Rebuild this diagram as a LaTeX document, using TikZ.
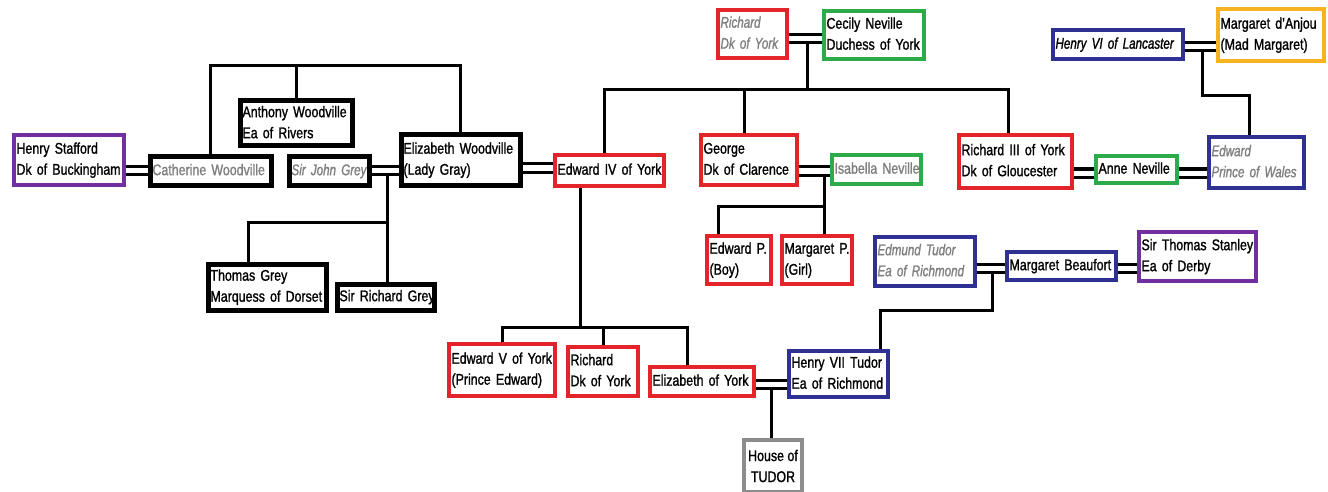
\documentclass[tikz,border=0pt]{standalone}
\usepackage{fontspec}
\setmainfont[FakeStretch=0.80,FakeBold=1.2,ItalicFeatures={FakeStretch=0.75}]{Liberation Sans}
\definecolor{cred}{HTML}{E3242B}
\definecolor{cgreen}{HTML}{2EAA4A}
\definecolor{cblue}{HTML}{2E3192}
\definecolor{cpurple}{HTML}{7030A0}
\definecolor{cyellow}{HTML}{F5B324}
\definecolor{cgrayb}{HTML}{8C8C8C}
\definecolor{tgray}{HTML}{7F7F7F}
\pgfdeclarelayer{bg}
\pgfsetlayers{bg,main}
\newcommand\famfont{\fontsize{15.5}{21}\selectfont}
\tikzset{
  famb/.style={draw, line width=4pt, fill=white, inner xsep=2.5pt, inner ysep=1pt,
    align=left, font=\famfont, text=black},
  blk/.style={line width=5pt},
  wire/.style={draw=black, line width=3pt, line cap=butt, line join=miter}
}
\newcommand\famnode[8]{%
  \pgfmathsetmacro\famW{#4-#2-4}%
  \pgfmathsetmacro\famH{#5-#3-4}%
  \pgfmathsetmacro\famT{\famW-5}%
  \node[famb, draw=#6, text width=\famT pt, minimum height=\famH pt, #7] (#1) at ({(#2+#4)/2},{(#3+#5)/2}) {\begin{tabular}{@{}l@{}}#8\end{tabular}};}
\newcommand\marry[4]{%
  \path (0,#3) coordinate (mA) (0,#4) coordinate (mB);
  \draw[wire] (#1.east|-mA) -- (#2.west|-mA);
  \draw[wire] (#1.east|-mB) -- (#2.west|-mB);}
\begin{document}
\begin{tikzpicture}[x=1pt,y=-1pt]
\useasboundingbox (0,0) rectangle (1328,492);
% people
\famnode{hs}{12}{133}{126}{187}{cpurple}{}{Henry Stafford\\Dk of Buckingham}
\famnode{cw}{148}{155}{273}{187}{black}{blk, text=tgray}{Catherine Woodville}
\famnode{aw}{238}{99}{354}{148}{black}{blk}{Anthony Woodville\\Ea of Rivers}
\famnode{jg}{287}{155}{371}{187}{black}{blk, text=tgray, font=\famfont\itshape}{Sir John Grey}
\famnode{ew}{399}{133}{522}{187}{black}{blk}{Elizabeth Woodville\\(Lady Gray)}
\famnode{e4}{553}{153}{666}{188}{cred}{}{Edward IV of York}
\famnode{rdy}{716}{8}{789}{60}{cred}{text=tgray, font=\famfont\itshape}{Richard\\Dk of York}
\famnode{cn}{822}{9}{926}{61}{cgreen}{}{Cecily Neville\\Duchess of York}
\famnode{gc}{699}{133}{799}{187}{cred}{}{George\\Dk of Clarence}
\famnode{isn}{830}{153}{923}{186}{cgreen}{text=tgray}{Isabella Neville}
\famnode{r3}{957}{133}{1074}{190}{cred}{}{Richard III of York\\Dk of Gloucester}
\famnode{an}{1094}{154}{1179}{185}{cgreen}{}{Anne Neville}
\famnode{ep}{1207}{135}{1306}{190}{cblue}{text=tgray, font=\famfont\itshape}{Edward\\Prince of Wales}
\famnode{h6}{1051}{28}{1185}{61}{cblue}{font=\famfont\itshape}{Henry VI of Lancaster}
\famnode{ma}{1216}{7}{1326}{63}{cyellow}{}{Margaret d'Anjou\\(Mad Margaret)}
\famnode{epb}{705}{234}{773}{286}{cred}{}{Edward P.\\(Boy)}
\famnode{mpg}{780}{234}{854}{286}{cred}{}{Margaret P.\\(Girl)}
\famnode{et}{873}{235}{977}{288}{cblue}{text=tgray, font=\famfont\itshape}{Edmund Tudor\\Ea of Richmond}
\famnode{mb}{1005}{250}{1118}{282}{cblue}{}{Margaret Beaufort}
\famnode{ts}{1137}{230}{1258}{283}{cpurple}{}{Sir Thomas Stanley\\Ea of Derby}
\famnode{tg}{206}{262}{328}{312}{black}{blk}{Thomas Grey\\Marquess of Dorset}
\famnode{srg}{335}{282}{436}{312}{black}{blk}{Sir Richard Grey}
\famnode{ev}{447}{342}{557}{398}{cred}{}{Edward V of York\\(Prince Edward)}
\famnode{rdk}{566}{345}{640}{398}{cred}{}{Richard\\Dk of York}
\famnode{ey}{648}{365}{756}{398}{cred}{}{Elizabeth of York}
\famnode{h7}{787}{349}{890}{399}{cblue}{}{Henry VII Tudor\\Ea of Richmond}
\node[famb, draw=cgrayb, align=center, minimum width=58pt, minimum height=52pt] (ht) at (773,466) {House of\\TUDOR};
% connectors
\begin{pgfonlayer}{bg}
\marry{hs}{cw}{167}{174}
\marry{jg}{ew}{167}{174}
\marry{ew}{e4}{164}{172}
\marry{rdy}{cn}{35}{43}
\marry{gc}{isn}{167}{175}
\marry{r3}{an}{169}{177}
\marry{an}{ep}{169}{177}
\marry{h6}{ma}{43}{51}
\marry{et}{mb}{264}{272}
\marry{mb}{ts}{264}{272}
\marry{ey}{h7}{380}{388}
% Woodville siblings
\coordinate (wbar) at (0,66);
\draw[wire] (cw.north) -- (cw.north|-wbar) -- (ew.north|-wbar) -- (ew.north);
\draw[wire] (aw.north) -- (aw.north|-wbar);
% Grey children
\coordinate (gj) at (387,174);
\coordinate (gbar) at (248,222);
\draw[wire] (gj) -- (gj|-srg.north);
\draw[wire] (gbar|-tg.north) -- (gbar) -- (gbar-|gj);
% York children
\coordinate (yj) at (807,43);
\coordinate (ybar) at (0,90);
\coordinate (xa) at (604,0);
\coordinate (xb) at (744,0);
\coordinate (xc) at (1008,0);
\draw[wire] (yj) -- (yj|-ybar);
\draw[wire] (xa|-e4.north) -- (xa|-ybar) -- (xc|-ybar) -- (xc|-r3.north);
\draw[wire] (xb|-gc.north) -- (xb|-ybar);
% Edward IV children
\coordinate (xd) at (580,0);
\coordinate (cbar) at (0,327);
\coordinate (xe) at (687,0);
\draw[wire] (xd|-e4.south) -- (xd|-cbar);
\draw[wire] (ev.north) -- (ev.north|-cbar) -- (xe|-cbar) -- (xe|-ey.north);
\draw[wire] (rdk.north) -- (rdk.north|-cbar);
% Clarence children
\coordinate (cj) at (824,175);
\coordinate (cbar2) at (718,206);
\draw[wire] (cj) -- (cj|-mpg.north);
\draw[wire] (cbar2|-epb.north) -- (cbar2) -- (cbar2-|cj);
% Lancaster
\coordinate (lj) at (1202,51);
\coordinate (lbar) at (1249,96);
\draw[wire] (lj) -- (lj|-lbar) -- (lbar) -- (lbar|-ep.north);
% Tudor
\coordinate (tj) at (992,272);
\coordinate (tbar) at (880,310);
\draw[wire] (tj) -- (tj|-tbar) -- (tbar) -- (tbar|-h7.north);
\coordinate (hj) at (771,388);
\draw[wire] (hj) -- (hj|-ht.north);
\end{pgfonlayer}
\end{tikzpicture}
\end{document}
